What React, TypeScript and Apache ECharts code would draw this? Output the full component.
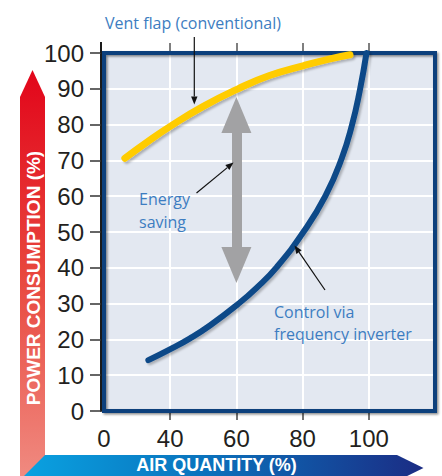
import React, { useEffect, useRef } from "react";
import * as echarts from "echarts";

// ---- data (x in axis units; the axis is broken: its origin, labelled "0", sits at 20) ----
const xTickValues = [20, 40, 60, 80, 100];
const yTickValues = [0, 10, 20, 30, 40, 50, 60, 70, 80, 90, 100];

const ventFlapX = [26.3, 33, 40, 50, 60.5, 70, 80.4, 88, 94.3];
const ventFlapY = [70.6, 75.1, 79.5, 85.1, 90.0, 93.7, 96.5, 98.3, 99.5];

const inverterX = [33.4, 39.9, 46, 52, 60.4, 66.1, 72.2, 80.4, 86.9, 91.75, 94.9, 97.3, 99.3];
const inverterY = [14.2, 17.2, 20.3, 23.9, 29.8, 34.4, 40.2, 50.2, 60.1, 70.4, 79.8, 89.6, 100];

// energy-saving double arrow: x position, and y of the two arrow-head centres
const savingX = 60;
const savingFromY = 82.7;
const savingToY = 40.8;

const labels = {
  ventFlap: "Vent flap (conventional)",
  saving: ["Energy", "saving"],
  inverter: ["Control via", "frequency inverter"],
  yTitle: "POWER CONSUMPTION (%)",
  xTitle: "AIR QUANTITY (%)",
};

// ---- layout ----
const W = 442;
const H = 476;
const GRID = { left: 104, top: 53, right: 7, bottom: 65 };
const NUM_FONT = "Liberation Sans, Arial, sans-serif";
const NOTE_FONT = "'Open Sans', 'Noto Sans', sans-serif";
const NOTE_COLOR = "#3d7dc1";

function pointer(x1: number, y1: number, x2: number, y2: number) {
  const dx = x2 - x1;
  const dy = y2 - y1;
  const len = Math.sqrt(dx * dx + dy * dy);
  const ux = dx / len;
  const uy = dy / len;
  const hl = 8;
  const hw = 3.2;
  const bx = x2 - ux * hl;
  const by = y2 - uy * hl;
  return [
    {
      type: "line",
      z: 20,
      shape: { x1, y1, x2: bx, y2: by },
      style: { stroke: "#111", lineWidth: 1.2 },
    },
    {
      type: "polygon",
      z: 20,
      shape: {
        points: [
          [x2, y2],
          [bx - uy * hw, by + ux * hw],
          [bx + uy * hw, by - ux * hw],
        ],
      },
      style: { fill: "#111" },
    },
  ];
}

export default function App() {
  const ref = useRef<HTMLDivElement>(null);

  useEffect(() => {
    if (!ref.current) return;
    const chart = echarts.init(ref.current, undefined, { renderer: "svg" });
    const gw = W - GRID.left - GRID.right;
    const gh = H - GRID.top - GRID.bottom;

    const note = (text: string, x: number, y: number) => ({
      type: "text",
      z: 20,
      x,
      y,
      style: {
        text,
        fill: NOTE_COLOR,
        font: `16px ${NOTE_FONT}`,
        align: "left",
        verticalAlign: "middle",
      },
    });

    const curveShadow = {
      shadowColor: "rgba(0,0,0,0.25)",
      shadowBlur: 2,
      shadowOffsetX: 2,
      shadowOffsetY: 2,
    };

    const option: any = {
      animation: false,
      grid: {
        left: GRID.left,
        top: GRID.top,
        right: GRID.right,
        bottom: GRID.bottom,
        show: true,
        backgroundColor: "#e3e8f1",
        borderWidth: 0,
      },
      xAxis: [
        {
          type: "value",
          min: 20,
          max: 120,
          interval: 20,
          offset: 2,
          axisLine: { show: true, lineStyle: { color: "#1a1a1a", width: 2 } },
          axisTick: {
            show: true,
            customValues: [40, 60, 80, 100],
            length: 9,
            lineStyle: { color: "#444", width: 1.5 },
          },
          axisLabel: {
            customValues: xTickValues,
            formatter: (v: number) => (v === 20 ? "0" : v === 120 ? "" : String(v)),
            fontSize: 24,
            fontFamily: NUM_FONT,
            color: "#231f20",
            margin: 13,
          },
          splitLine: { show: true, lineStyle: { color: "#ffffff", width: 2 } },
        },
        {
          type: "value",
          position: "top",
          min: 20,
          max: 120,
          interval: 20,
          axisLine: { show: false },
          axisLabel: { show: false },
          splitLine: { show: false },
          axisTick: {
            show: true,
            customValues: [40, 60, 80, 100],
            length: 10,
            lineStyle: { color: "#555", width: 1.5 },
          },
        },
      ],
      yAxis: {
        type: "value",
        min: 0,
        max: 100,
        interval: 10,
        offset: 3,
        axisLine: { show: true, lineStyle: { color: "#1a1a1a", width: 2 } },
        axisTick: { show: true, length: 11, lineStyle: { color: "#333", width: 1.5 } },
        axisLabel: {
          customValues: yTickValues,
          fontSize: 24,
          fontFamily: NUM_FONT,
          color: "#231f20",
          margin: 17,
        },
        splitLine: { show: true, lineStyle: { color: "#ffffff", width: 2 } },
      },
      series: [
        {
          type: "line",
          data: [],
          silent: true,
          markLine: {
            silent: true,
            animation: false,
            symbol: ["triangle", "triangle"],
            symbolSize: [30, 36],
            label: { show: false },
            itemStyle: { color: "#a2a2a4" },
            lineStyle: { color: "#a2a2a4", width: 10, type: "solid" },
            emphasis: { disabled: true },
            data: [[{ coord: [savingX, savingFromY] }, { coord: [savingX, savingToY] }]],
          },
        },
        {
          type: "line",
          name: "Vent flap",
          data: ventFlapX.map((x, i) => [x, ventFlapY[i]]),
          smooth: 0.5,
          showSymbol: false,
          clip: false,
          lineStyle: { color: "#ffcc00", width: 7, cap: "round", ...curveShadow },
        },
        {
          type: "line",
          name: "Inverter",
          data: inverterX.map((x, i) => [x, inverterY[i]]),
          smooth: 0.5,
          showSymbol: false,
          clip: false,
          lineStyle: { color: "#0b4888", width: 6, cap: "round", ...curveShadow },
        },
      ],
      graphic: [
        // plot frame
        {
          type: "rect",
          z: 1,
          silent: true,
          shape: { x: GRID.left, y: GRID.top, width: gw, height: gh },
          style: {
            fill: "none",
            stroke: "#0b3f7c",
            lineWidth: 4,
            shadowColor: "rgba(0,0,0,0.45)",
            shadowBlur: 2,
            shadowOffsetX: 1.5,
            shadowOffsetY: 1.5,
          },
        },
        // y axis line extension above the frame
        {
          type: "line",
          z: 1,
          shape: { x1: GRID.left - 3, y1: GRID.top - 11, x2: GRID.left - 3, y2: GRID.top },
          style: { stroke: "#1a1a1a", lineWidth: 2 },
        },
        // red vertical arrow
        {
          type: "polygon",
          z: 0,
          shape: {
            points: [
              [20, 97],
              [32.5, 70],
              [45, 97],
              [45, H],
              [20, H],
            ],
          },
          style: {
            fill: new echarts.graphic.LinearGradient(0, 0, 0, 1, [
              { offset: 0, color: "#e2051a" },
              { offset: 0.5, color: "#e8463d" },
              { offset: 1, color: "#f08a80" },
            ]),
          },
        },
        {
          type: "text",
          z: 5,
          x: 33.5,
          y: 278,
          rotation: Math.PI / 2,
          style: {
            text: labels.yTitle,
            fill: "#ffffff",
            font: `bold 19px ${NUM_FONT}`,
            align: "center",
            verticalAlign: "middle",
          },
        },
        // blue horizontal arrow
        {
          type: "polygon",
          z: 1,
          shape: {
            points: [
              [45, 455],
              [397, 455],
              [423.5, 468],
              [397, 481],
              [19, 481],
            ],
          },
          style: {
            fill: new echarts.graphic.LinearGradient(0, 0, 1, 0, [
              { offset: 0, color: "#0aa3e2" },
              { offset: 0.45, color: "#0a73bd" },
              { offset: 1, color: "#1b2c84" },
            ]),
          },
        },
        {
          type: "text",
          z: 5,
          x: 216.5,
          y: 465,
          style: {
            text: labels.xTitle,
            fill: "#ffffff",
            font: `bold 18px ${NUM_FONT}`,
            align: "center",
            verticalAlign: "middle",
          },
        },
        // annotations
        note(labels.ventFlap, 105, 23),
        note(labels.saving[0], 139, 199),
        note(labels.saving[1], 139, 222),
        note(labels.inverter[0], 274, 311.5),
        note(labels.inverter[1], 274, 333.5),
        ...pointer(194.3, 37, 194.3, 104.5),
        ...pointer(196.5, 193, 233.5, 162.5),
        ...pointer(325, 290, 294.5, 245.5),
      ],
    };

    chart.setOption(option);
    return () => chart.dispose();
  }, []);

  return (
    <div
      ref={ref}
      style={{ position: "fixed", left: 0, top: 0, width: W, height: H, background: "#ffffff" }}
    />
  );
}
